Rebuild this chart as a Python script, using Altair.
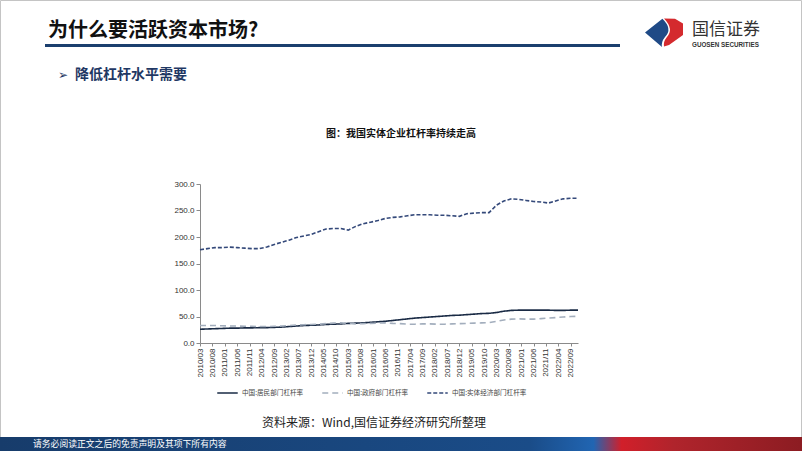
import altair as alt
import pandas as pd

# ---------------- data ----------------
years = [2010, 2011, 2012, 2013, 2014, 2015, 2016, 2017, 2018, 2019, 2020, 2021, 2022]
quarter_months = [3, 6, 9, 12]

household = [
    26, 26.5, 27, 27.5,
    28, 28, 28.5, 28.5,
    29, 29, 29.5, 30,
    31, 32, 33, 33.5,
    34, 35, 35.5, 36,
    37, 37.5, 38, 39,
    40, 41, 42.5, 44,
    45.5, 47, 48, 49,
    50, 51, 52, 52.5,
    53.5, 54.5, 55.5, 56,
    57.5, 60, 61.5, 62,
    62, 62, 62, 62,
    61.5, 61.5, 62, 62,
]
government = [
    33, 33, 33, 32.5,
    32, 32, 31.5, 31.5,
    31, 31, 31.5, 32,
    33, 34, 34.5, 35,
    35.5, 36.5, 37.5, 38,
    37, 36, 36.5, 37,
    37.5, 38, 37, 36.5,
    35.5, 35.5, 36, 36,
    35.5, 35.5, 36, 36.5,
    37, 37.5, 38, 38.5,
    41, 43.5, 45, 45.5,
    45, 45, 46, 47,
    48, 49, 50, 50.5,
]
real_economy = [
    176, 178, 180, 180,
    181, 180, 179, 178,
    178, 181, 186, 190,
    194, 199, 202, 205,
    210, 215, 216, 216,
    213, 220, 225, 228,
    231, 235, 237, 238,
    240, 242, 242, 242,
    241, 241, 240, 239,
    244, 245, 246, 246,
    260, 268, 272, 271,
    269, 267, 266, 264,
    268, 272, 273, 273,
]

series_names = ["中国:居民部门杠杆率", "中国:政府部门杠杆率", "中国:实体经济部门杠杆率"]
series_colors = ["#1A2B45", "#A3AEBD", "#34497A"]
series_dashes = [[1, 0], [6, 4], [4, 2]]

tick_labels = ["2010/03", "2010/08", "2011/01", "2011/06", "2011/11", "2012/04", "2012/09",
               "2013/02", "2013/07", "2013/12", "2014/05", "2014/10", "2015/03", "2015/08",
               "2016/01", "2016/06", "2016/11", "2017/04", "2017/09", "2018/02", "2018/07",
               "2018/12", "2019/05", "2019/10", "2020/03", "2020/08", "2021/01", "2021/06",
               "2021/11", "2022/04", "2022/09"]
y_ticks = [0, 50, 100, 150, 200, 250, 300]

# ---------------- table ----------------
dates = [f"{y}-{m:02d}-01T00:00:00" for y in years for m in quarter_months]
rows = []
for name, vals in zip(series_names, [household, government, real_economy]):
    for d, v in zip(dates, vals):
        rows.append({"date": d, "series": name, "value": v})
df = pd.DataFrame(rows)

tick_values = [alt.DateTime(year=int(t[:4]), month=int(t[5:]), date=1) for t in tick_labels]

# plot area placement in the 802x451 canvas
OX, OY = 200, 184
W, H = 378, 159

CJK = "Noto Sans CJK SC"
LAT = "Liberation Sans"

legend_cfg = dict(title=None, orient="none", legendX=16, legendY=197,
                  direction="horizontal", symbolType="stroke",
                  symbolSize=420, symbolStrokeWidth=1.6,
                  labelFont=CJK, labelFontSize=6.6, labelColor="#444444",
                  columnPadding=15, labelOffset=3)

lines = alt.Chart(df).mark_line(strokeWidth=1.6).encode(
    x=alt.X("date:T",
            scale=alt.Scale(domain=[alt.DateTime(year=2010, month=3, date=1),
                                    alt.DateTime(year=2022, month=12, date=1)]),
            axis=alt.Axis(values=tick_values, format="%Y/%m", labelAngle=-90,
                          title=None, grid=False, labelFontSize=8, labelFont=LAT,
                          labelColor="#333333", domainColor="#8a8a8a", tickColor="#8a8a8a",
                          tickSize=3, labelPadding=2, labelOverlap=False)),
    y=alt.Y("value:Q",
            scale=alt.Scale(domain=[0, 300], nice=False),
            axis=alt.Axis(values=y_ticks, format=".1f", title=None, grid=False,
                          labelFontSize=8, labelFont=LAT, labelColor="#333333",
                          domainColor="#8a8a8a", tickColor="#8a8a8a", tickSize=4,
                          labelPadding=2)),
    color=alt.Color("series:N",
                    scale=alt.Scale(domain=series_names, range=series_colors),
                    legend=alt.Legend(**legend_cfg)),
    strokeDash=alt.StrokeDash("series:N",
                              scale=alt.Scale(domain=series_names, range=series_dashes),
                              legend=alt.Legend(**legend_cfg)),
    order=alt.Order("date:T"),
)

one = alt.Data(values=[{"k": 0}])


def txt(text, x, y, size, weight="normal", color="#000000", align="left", font=CJK, baseline="middle"):
    return alt.Chart(one).mark_text(text=text, fontSize=size, fontWeight=weight, color=color,
                                    align=align, baseline=baseline, font=font).encode(
        x=alt.value(x - OX), y=alt.value(y - OY))


border = alt.Chart(one).mark_rect(fill=None, stroke="#c4c4c4", strokeWidth=1).encode(
    x=alt.value(0.5 - OX), x2=alt.value(801.5 - OX), y=alt.value(0.5 - OY), y2=alt.value(450.5 - OY))

underline = alt.Chart(one).mark_rect(color="#1B3F6E").encode(
    x=alt.value(45 - OX), x2=alt.value(620 - OX), y=alt.value(44 - OY), y2=alt.value(47 - OY))

footer = alt.Chart(one).mark_rect(
    color=alt.Gradient(gradient="linear", x1=0, x2=1, y1=0, y2=0, stops=[
        alt.GradientStop(color="#173C6B", offset=0),
        alt.GradientStop(color="#1A4C88", offset=0.66),
        alt.GradientStop(color="#2165B2", offset=0.74),
        alt.GradientStop(color="#D11F2A", offset=0.775),
        alt.GradientStop(color="#B0242C", offset=0.84),
        alt.GradientStop(color="#8C1C22", offset=1),
    ])).encode(x=alt.value(0 - OX), x2=alt.value(802 - OX), y=alt.value(437 - OY), y2=alt.value(451 - OY))

# logo shapes (custom SVG path symbols, unit = 20px)
blue_path = "M -0.95 0.02 L -0.08 -0.66 Q 0.45 -0.15 0.05 0.25 Q -0.15 0.5 -0.1 0.75 Z"
red_path = ("M 0.0 -0.68 L 0.55 -0.66 L 0.95 -0.42 L 0.95 0.15 L 0.25 0.65 L 0.0 0.73 "
            "Q -0.05 0.5 0.13 0.27 Q 0.52 -0.15 0.0 -0.68 Z")
logo_blue = alt.Chart(one).mark_point(shape=blue_path, size=1600, filled=True, color="#1F4A86",
                                      opacity=1, strokeWidth=0).encode(
    x=alt.value(664 - OX), y=alt.value(32 - OY))
logo_red = alt.Chart(one).mark_point(shape=red_path, size=1600, filled=True, color="#D42A2E",
                                     opacity=1, strokeWidth=0).encode(
    x=alt.value(664 - OX), y=alt.value(32 - OY))

texts = [
    txt("为什么要活跃资本市场?", 48, 31, 20, "bold", "#111111"),
    txt("➢", 58, 75, 12, "normal", "#1F3864", font="DejaVu Sans"),
    txt("降低杠杆水平需要", 75, 75, 14, "bold", "#1F3864"),
    txt("图：我国实体企业杠杆率持续走高", 401, 134, 10, "bold", "#111111", align="center"),
    txt("资料来源：Wind,国信证券经济研究所整理", 374, 423, 12, "normal", "#222222", align="center"),
    txt("请务必阅读正文之后的免责声明及其项下所有内容", 33, 444, 8.8, "normal", "#ffffff"),
    txt("国信证券", 692, 30, 17, "normal", "#333333"),
    txt("GUOSEN SECURITIES", 692, 44.5, 6.3, "bold", "#333333", font=LAT),
]

chart = alt.layer(border, underline, footer, logo_blue, logo_red, lines, *texts).properties(
    width=W, height=H,
    autosize=alt.AutoSizeParams(type="none"),
    padding={"left": OX, "top": OY, "right": 802 - OX - W, "bottom": 451 - OY - H},
    background="white",
).resolve_scale(color="shared").configure_view(stroke=None)

chart.save("out.html", embed_options={"renderer": "svg", "actions": False})
